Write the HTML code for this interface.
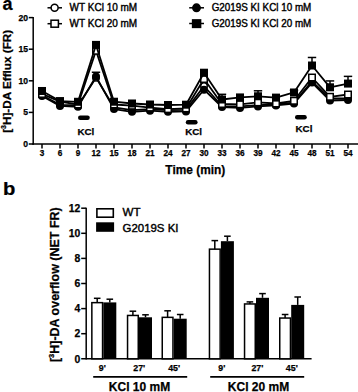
<!DOCTYPE html><html><head><meta charset="utf-8"><style>html,body{margin:0;padding:0;background:#fff;}svg{display:block;}text{font-family:"Liberation Sans",sans-serif;font-weight:bold;fill:#000;stroke:#000;stroke-width:0.25px;}text.lg{font-weight:normal;stroke:#000;stroke-width:0.4px;}</style></head><body>
<svg width="358" height="392" viewBox="0 0 358 392">
<rect width="358" height="392" fill="#fff"/>
<text x="2.6" y="10" font-size="18">a</text>
<text transform="translate(3.0,194.8) scale(1.12,1)" font-size="18">b</text>
<g stroke="#000" stroke-width="1.5" fill="none">
<line x1="33.2" y1="17" x2="33.2" y2="144.8"/>
<line x1="32.4" y1="144" x2="358" y2="144"/>
<line x1="28.8" y1="144.00" x2="33.2" y2="144.00"/>
<line x1="28.8" y1="112.40" x2="33.2" y2="112.40"/>
<line x1="28.8" y1="80.80" x2="33.2" y2="80.80"/>
<line x1="28.8" y1="49.20" x2="33.2" y2="49.20"/>
<line x1="28.8" y1="17.60" x2="33.2" y2="17.60"/>
<line x1="42" y1="144" x2="42" y2="148.5"/>
<line x1="60" y1="144" x2="60" y2="148.5"/>
<line x1="78" y1="144" x2="78" y2="148.5"/>
<line x1="96" y1="144" x2="96" y2="148.5"/>
<line x1="114" y1="144" x2="114" y2="148.5"/>
<line x1="132" y1="144" x2="132" y2="148.5"/>
<line x1="150" y1="144" x2="150" y2="148.5"/>
<line x1="168" y1="144" x2="168" y2="148.5"/>
<line x1="186" y1="144" x2="186" y2="148.5"/>
<line x1="204" y1="144" x2="204" y2="148.5"/>
<line x1="222" y1="144" x2="222" y2="148.5"/>
<line x1="240" y1="144" x2="240" y2="148.5"/>
<line x1="258" y1="144" x2="258" y2="148.5"/>
<line x1="276" y1="144" x2="276" y2="148.5"/>
<line x1="294" y1="144" x2="294" y2="148.5"/>
<line x1="312" y1="144" x2="312" y2="148.5"/>
<line x1="330" y1="144" x2="330" y2="148.5"/>
<line x1="348" y1="144" x2="348" y2="148.5"/>
</g>
<text x="28" y="147.00" font-size="8.6" text-anchor="end">0</text>
<text x="28" y="115.40" font-size="8.6" text-anchor="end">5</text>
<text x="28" y="83.80" font-size="8.6" text-anchor="end">10</text>
<text x="28" y="52.20" font-size="8.6" text-anchor="end">15</text>
<text x="28" y="20.60" font-size="8.6" text-anchor="end">20</text>
<text x="42" y="156.3" font-size="8.2" text-anchor="middle">3</text>
<text x="60" y="156.3" font-size="8.2" text-anchor="middle">6</text>
<text x="78" y="156.3" font-size="8.2" text-anchor="middle">9</text>
<text x="96" y="156.3" font-size="8.2" text-anchor="middle">12</text>
<text x="114" y="156.3" font-size="8.2" text-anchor="middle">15</text>
<text x="132" y="156.3" font-size="8.2" text-anchor="middle">18</text>
<text x="150" y="156.3" font-size="8.2" text-anchor="middle">21</text>
<text x="168" y="156.3" font-size="8.2" text-anchor="middle">24</text>
<text x="186" y="156.3" font-size="8.2" text-anchor="middle">27</text>
<text x="204" y="156.3" font-size="8.2" text-anchor="middle">30</text>
<text x="222" y="156.3" font-size="8.2" text-anchor="middle">33</text>
<text x="240" y="156.3" font-size="8.2" text-anchor="middle">36</text>
<text x="258" y="156.3" font-size="8.2" text-anchor="middle">39</text>
<text x="276" y="156.3" font-size="8.2" text-anchor="middle">42</text>
<text x="294" y="156.3" font-size="8.2" text-anchor="middle">45</text>
<text x="312" y="156.3" font-size="8.2" text-anchor="middle">48</text>
<text x="330" y="156.3" font-size="8.2" text-anchor="middle">51</text>
<text x="348" y="156.3" font-size="8.2" text-anchor="middle">54</text>
<text x="195.3" y="174.4" font-size="11.9" text-anchor="middle">Time (min)</text>
<text transform="translate(11.3,81.3) rotate(-90)" font-size="11.73" text-anchor="middle">[<tspan font-size="7" dy="-5.4">3</tspan><tspan dy="5.4">H]-DA Efflux (FR)</tspan></text>
<rect x="78" y="115.6" width="11.8" height="4.4" rx="2.2" fill="#000"/>
<text x="77.4" y="135.3" font-size="9.8">KCl</text>
<rect x="185.8" y="120.0" width="11.8" height="4.4" rx="2.2" fill="#000"/>
<text x="185.2" y="135.3" font-size="9.8">KCl</text>
<rect x="295.0" y="115.1" width="11.8" height="4.4" rx="2.2" fill="#000"/>
<text x="295.5" y="131.8" font-size="9.8">KCl</text>
<polyline points="42.00,95.34 60.00,104.82 78.00,105.45 96.00,77.64 114.00,107.34 132.00,110.19 150.00,109.24 168.00,110.19 186.00,109.87 204.00,85.98 222.00,106.08 240.00,106.40 258.00,105.13 276.00,104.50 294.00,102.60 312.00,81.43 330.00,98.50 348.00,98.50" fill="none" stroke="#000" stroke-width="1.8" stroke-linejoin="round"/>
<circle cx="42" cy="95.34" r="3.25" fill="#fff" stroke="#000" stroke-width="1.5"/>
<circle cx="60" cy="104.82" r="3.25" fill="#fff" stroke="#000" stroke-width="1.5"/>
<circle cx="78" cy="105.45" r="3.25" fill="#fff" stroke="#000" stroke-width="1.5"/>
<circle cx="96" cy="77.64" r="3.25" fill="#fff" stroke="#000" stroke-width="1.5"/>
<circle cx="114" cy="107.34" r="3.25" fill="#fff" stroke="#000" stroke-width="1.5"/>
<circle cx="132" cy="110.19" r="3.25" fill="#fff" stroke="#000" stroke-width="1.5"/>
<circle cx="150" cy="109.24" r="3.25" fill="#fff" stroke="#000" stroke-width="1.5"/>
<circle cx="168" cy="110.19" r="3.25" fill="#fff" stroke="#000" stroke-width="1.5"/>
<circle cx="186" cy="109.87" r="3.25" fill="#fff" stroke="#000" stroke-width="1.5"/>
<circle cx="204" cy="85.98" r="3.25" fill="#fff" stroke="#000" stroke-width="1.5"/>
<circle cx="222" cy="106.08" r="3.25" fill="#fff" stroke="#000" stroke-width="1.5"/>
<circle cx="240" cy="106.40" r="3.25" fill="#fff" stroke="#000" stroke-width="1.5"/>
<circle cx="258" cy="105.13" r="3.25" fill="#fff" stroke="#000" stroke-width="1.5"/>
<circle cx="276" cy="104.50" r="3.25" fill="#fff" stroke="#000" stroke-width="1.5"/>
<circle cx="294" cy="102.60" r="3.25" fill="#fff" stroke="#000" stroke-width="1.5"/>
<circle cx="312" cy="81.43" r="3.25" fill="#fff" stroke="#000" stroke-width="1.5"/>
<circle cx="330" cy="98.50" r="3.25" fill="#fff" stroke="#000" stroke-width="1.5"/>
<circle cx="348" cy="98.50" r="3.25" fill="#fff" stroke="#000" stroke-width="1.5"/>
<polyline points="42.00,95.97 60.00,105.89 78.00,106.78 96.00,76.50 114.00,109.11 132.00,111.83 150.00,110.63 168.00,111.83 186.00,111.39 204.00,89.71 222.00,107.09 240.00,107.91 258.00,106.40 276.00,105.38 294.00,103.49 312.00,82.57 330.00,100.52 348.00,100.01" fill="none" stroke="#000" stroke-width="1.8" stroke-linejoin="round"/>
<line x1="96" y1="76.50" x2="96" y2="72.27" stroke="#000" stroke-width="1.5"/>
<line x1="91.8" y1="72.27" x2="100.2" y2="72.27" stroke="#000" stroke-width="1.5"/>
<circle cx="42" cy="95.97" r="4.00" fill="#000"/>
<circle cx="60" cy="105.89" r="4.00" fill="#000"/>
<circle cx="78" cy="106.78" r="4.00" fill="#000"/>
<circle cx="96" cy="76.50" r="4.00" fill="#000"/>
<circle cx="114" cy="109.11" r="4.00" fill="#000"/>
<circle cx="132" cy="111.83" r="4.00" fill="#000"/>
<circle cx="150" cy="110.63" r="4.00" fill="#000"/>
<circle cx="168" cy="111.83" r="4.00" fill="#000"/>
<circle cx="186" cy="111.39" r="4.00" fill="#000"/>
<circle cx="204" cy="89.71" r="4.00" fill="#000"/>
<circle cx="222" cy="107.09" r="4.00" fill="#000"/>
<circle cx="240" cy="107.91" r="4.00" fill="#000"/>
<circle cx="258" cy="106.40" r="4.00" fill="#000"/>
<circle cx="276" cy="105.38" r="4.00" fill="#000"/>
<circle cx="294" cy="103.49" r="4.00" fill="#000"/>
<circle cx="312" cy="82.57" r="4.00" fill="#000"/>
<circle cx="330" cy="100.52" r="4.00" fill="#000"/>
<circle cx="348" cy="100.01" r="4.00" fill="#000"/>
<polyline points="42.00,93.95 60.00,101.66 78.00,104.50 96.00,50.78 114.00,104.50 132.00,105.70 150.00,107.60 168.00,109.11 186.00,108.42 204.00,79.03 222.00,103.99 240.00,104.31 258.00,102.41 276.00,103.49 294.00,100.77 312.00,77.51 330.00,96.79 348.00,94.51" fill="none" stroke="#000" stroke-width="1.8" stroke-linejoin="round"/>
<rect x="38.75" y="90.70" width="6.50" height="6.50" fill="#fff" stroke="#000" stroke-width="1.5"/>
<rect x="56.75" y="98.41" width="6.50" height="6.50" fill="#fff" stroke="#000" stroke-width="1.5"/>
<rect x="74.75" y="101.25" width="6.50" height="6.50" fill="#fff" stroke="#000" stroke-width="1.5"/>
<rect x="92.75" y="47.53" width="6.50" height="6.50" fill="#fff" stroke="#000" stroke-width="1.5"/>
<rect x="110.75" y="101.25" width="6.50" height="6.50" fill="#fff" stroke="#000" stroke-width="1.5"/>
<rect x="128.75" y="102.45" width="6.50" height="6.50" fill="#fff" stroke="#000" stroke-width="1.5"/>
<rect x="146.75" y="104.35" width="6.50" height="6.50" fill="#fff" stroke="#000" stroke-width="1.5"/>
<rect x="164.75" y="105.86" width="6.50" height="6.50" fill="#fff" stroke="#000" stroke-width="1.5"/>
<rect x="182.75" y="105.17" width="6.50" height="6.50" fill="#fff" stroke="#000" stroke-width="1.5"/>
<rect x="200.75" y="75.78" width="6.50" height="6.50" fill="#fff" stroke="#000" stroke-width="1.5"/>
<rect x="218.75" y="100.74" width="6.50" height="6.50" fill="#fff" stroke="#000" stroke-width="1.5"/>
<rect x="236.75" y="101.06" width="6.50" height="6.50" fill="#fff" stroke="#000" stroke-width="1.5"/>
<rect x="254.75" y="99.16" width="6.50" height="6.50" fill="#fff" stroke="#000" stroke-width="1.5"/>
<rect x="272.75" y="100.24" width="6.50" height="6.50" fill="#fff" stroke="#000" stroke-width="1.5"/>
<rect x="290.75" y="97.52" width="6.50" height="6.50" fill="#fff" stroke="#000" stroke-width="1.5"/>
<rect x="308.75" y="74.26" width="6.50" height="6.50" fill="#fff" stroke="#000" stroke-width="1.5"/>
<rect x="326.75" y="93.54" width="6.50" height="6.50" fill="#fff" stroke="#000" stroke-width="1.5"/>
<rect x="344.75" y="91.26" width="6.50" height="6.50" fill="#fff" stroke="#000" stroke-width="1.5"/>
<polyline points="42.00,90.98 60.00,101.09 78.00,101.78 96.00,44.90 114.00,101.72 132.00,103.49 150.00,104.50 168.00,105.01 186.00,104.69 204.00,72.71 222.00,99.51 240.00,97.42 258.00,96.28 276.00,97.61 294.00,92.49 312.00,65.51 330.00,87.31 348.00,83.58" fill="none" stroke="#000" stroke-width="1.8" stroke-linejoin="round"/>
<line x1="312" y1="65.51" x2="312" y2="57.48" stroke="#000" stroke-width="1.5"/>
<line x1="307.8" y1="57.48" x2="316.2" y2="57.48" stroke="#000" stroke-width="1.5"/>
<line x1="330" y1="87.31" x2="330" y2="80.93" stroke="#000" stroke-width="1.5"/>
<line x1="325.8" y1="80.93" x2="334.2" y2="80.93" stroke="#000" stroke-width="1.5"/>
<line x1="348" y1="83.58" x2="348" y2="76.38" stroke="#000" stroke-width="1.5"/>
<line x1="343.8" y1="76.38" x2="352.2" y2="76.38" stroke="#000" stroke-width="1.5"/>
<line x1="222" y1="99.51" x2="222" y2="94.32" stroke="#000" stroke-width="1.5"/>
<line x1="217.8" y1="94.32" x2="226.2" y2="94.32" stroke="#000" stroke-width="1.5"/>
<line x1="258" y1="96.28" x2="258" y2="90.79" stroke="#000" stroke-width="1.5"/>
<line x1="253.8" y1="90.79" x2="262.2" y2="90.79" stroke="#000" stroke-width="1.5"/>
<line x1="294" y1="92.49" x2="294" y2="90.28" stroke="#000" stroke-width="1.5"/>
<line x1="289.8" y1="90.28" x2="298.2" y2="90.28" stroke="#000" stroke-width="1.5"/>
<rect x="38.00" y="86.98" width="8.0" height="8.0" fill="#000"/>
<rect x="56.00" y="97.09" width="8.0" height="8.0" fill="#000"/>
<rect x="74.00" y="97.78" width="8.0" height="8.0" fill="#000"/>
<rect x="92.00" y="40.90" width="8.0" height="8.0" fill="#000"/>
<rect x="110.00" y="97.72" width="8.0" height="8.0" fill="#000"/>
<rect x="128.00" y="99.49" width="8.0" height="8.0" fill="#000"/>
<rect x="146.00" y="100.50" width="8.0" height="8.0" fill="#000"/>
<rect x="164.00" y="101.01" width="8.0" height="8.0" fill="#000"/>
<rect x="182.00" y="100.69" width="8.0" height="8.0" fill="#000"/>
<rect x="200.00" y="68.71" width="8.0" height="8.0" fill="#000"/>
<rect x="218.00" y="95.51" width="8.0" height="8.0" fill="#000"/>
<rect x="236.00" y="93.42" width="8.0" height="8.0" fill="#000"/>
<rect x="254.00" y="92.28" width="8.0" height="8.0" fill="#000"/>
<rect x="272.00" y="93.61" width="8.0" height="8.0" fill="#000"/>
<rect x="290.00" y="88.49" width="8.0" height="8.0" fill="#000"/>
<rect x="308.00" y="61.51" width="8.0" height="8.0" fill="#000"/>
<rect x="326.00" y="83.31" width="8.0" height="8.0" fill="#000"/>
<rect x="344.00" y="79.58" width="8.0" height="8.0" fill="#000"/>
<g stroke="#000" stroke-width="1.5">
<line x1="47.5" y1="7.8" x2="62" y2="7.8"/><circle cx="54.6" cy="7.8" r="3.5" fill="#fff"/>
<line x1="47.5" y1="23.7" x2="62" y2="23.7"/><rect x="51" y="20.2" width="7.4" height="7" fill="#fff"/>
<line x1="189.2" y1="7.8" x2="204" y2="7.8"/><circle cx="196.5" cy="7.8" r="3.7" fill="#000"/>
<line x1="189.2" y1="23.5" x2="204" y2="23.5"/><rect x="192.6" y="19.9" width="8" height="7.5" fill="#000"/>
</g>
<text class="lg" x="69.6" y="11" font-size="10.3" textLength="67.6" lengthAdjust="spacingAndGlyphs">WT KCl 10 mM</text>
<text class="lg" x="69.6" y="27" font-size="10.3" textLength="67.6" lengthAdjust="spacingAndGlyphs">WT KCl 20 mM</text>
<text class="lg" x="211.7" y="11" font-size="10.3" textLength="99.6" lengthAdjust="spacingAndGlyphs">G2019S KI KCl 10 mM</text>
<text class="lg" x="211.7" y="27" font-size="10.3" textLength="99.6" lengthAdjust="spacingAndGlyphs">G2019S KI KCl 20 mM</text>
<g stroke="#000" stroke-width="1.5" fill="none">
<line x1="86.2" y1="207.8" x2="86.2" y2="359.5"/>
<line x1="81.2" y1="358.8" x2="311.6" y2="358.8"/>
<line x1="81.2" y1="333.70" x2="86.2" y2="333.70"/>
<line x1="81.2" y1="308.60" x2="86.2" y2="308.60"/>
<line x1="81.2" y1="283.50" x2="86.2" y2="283.50"/>
<line x1="81.2" y1="258.40" x2="86.2" y2="258.40"/>
<line x1="81.2" y1="233.30" x2="86.2" y2="233.30"/>
<line x1="81.2" y1="208.20" x2="86.2" y2="208.20"/>
</g>
<text x="80.2" y="362.50" font-size="10.4" text-anchor="end">0</text>
<text x="80.2" y="337.40" font-size="10.4" text-anchor="end">2</text>
<text x="80.2" y="312.30" font-size="10.4" text-anchor="end">4</text>
<text x="80.2" y="287.20" font-size="10.4" text-anchor="end">6</text>
<text x="80.2" y="262.10" font-size="10.4" text-anchor="end">8</text>
<text x="80.2" y="237.00" font-size="10.4" text-anchor="end">10</text>
<text x="80.2" y="211.90" font-size="10.4" text-anchor="end">12</text>
<text transform="translate(59.3,284.7) rotate(-90)" font-size="12.48" text-anchor="middle">[<tspan font-size="7.5" dy="-5.6">3</tspan><tspan dy="5.6">H]-DA overflow (NET FR)</tspan></text>
<rect x="91.85" y="302.65" width="10.70" height="56.15" fill="#fff" stroke="#000" stroke-width="1.5"/>
<line x1="97.20" y1="302.65" x2="97.20" y2="298.30" stroke="#000" stroke-width="1.5"/>
<line x1="93.90" y1="298.30" x2="100.50" y2="298.30" stroke="#000" stroke-width="1.5"/>
<rect x="103.30" y="302.40" width="13.00" height="56.40" fill="#000"/>
<line x1="109.80" y1="302.40" x2="109.80" y2="299.20" stroke="#000" stroke-width="1.5"/>
<line x1="106.50" y1="299.20" x2="113.10" y2="299.20" stroke="#000" stroke-width="1.5"/>
<rect x="127.55" y="315.45" width="10.70" height="43.35" fill="#fff" stroke="#000" stroke-width="1.5"/>
<line x1="132.90" y1="315.45" x2="132.90" y2="311.20" stroke="#000" stroke-width="1.5"/>
<line x1="129.60" y1="311.20" x2="136.20" y2="311.20" stroke="#000" stroke-width="1.5"/>
<rect x="139.00" y="317.30" width="13.00" height="41.50" fill="#000"/>
<line x1="145.50" y1="317.30" x2="145.50" y2="314.80" stroke="#000" stroke-width="1.5"/>
<line x1="142.20" y1="314.80" x2="148.80" y2="314.80" stroke="#000" stroke-width="1.5"/>
<rect x="162.25" y="317.35" width="10.70" height="41.45" fill="#fff" stroke="#000" stroke-width="1.5"/>
<line x1="167.60" y1="317.35" x2="167.60" y2="310.80" stroke="#000" stroke-width="1.5"/>
<line x1="164.30" y1="310.80" x2="170.90" y2="310.80" stroke="#000" stroke-width="1.5"/>
<rect x="173.70" y="318.70" width="13.00" height="40.10" fill="#000"/>
<line x1="180.20" y1="318.70" x2="180.20" y2="314.50" stroke="#000" stroke-width="1.5"/>
<line x1="176.90" y1="314.50" x2="183.50" y2="314.50" stroke="#000" stroke-width="1.5"/>
<rect x="209.45" y="249.15" width="10.70" height="109.65" fill="#fff" stroke="#000" stroke-width="1.5"/>
<line x1="214.80" y1="249.15" x2="214.80" y2="240.60" stroke="#000" stroke-width="1.5"/>
<line x1="211.50" y1="240.60" x2="218.10" y2="240.60" stroke="#000" stroke-width="1.5"/>
<rect x="220.90" y="241.20" width="13.00" height="117.60" fill="#000"/>
<line x1="227.40" y1="241.20" x2="227.40" y2="236.20" stroke="#000" stroke-width="1.5"/>
<line x1="224.10" y1="236.20" x2="230.70" y2="236.20" stroke="#000" stroke-width="1.5"/>
<rect x="244.55" y="303.95" width="10.70" height="54.85" fill="#fff" stroke="#000" stroke-width="1.5"/>
<line x1="249.90" y1="303.95" x2="249.90" y2="301.90" stroke="#000" stroke-width="1.5"/>
<line x1="246.60" y1="301.90" x2="253.20" y2="301.90" stroke="#000" stroke-width="1.5"/>
<rect x="256.00" y="297.80" width="13.00" height="61.00" fill="#000"/>
<line x1="262.50" y1="297.80" x2="262.50" y2="293.60" stroke="#000" stroke-width="1.5"/>
<line x1="259.20" y1="293.60" x2="265.80" y2="293.60" stroke="#000" stroke-width="1.5"/>
<rect x="279.75" y="318.05" width="10.70" height="40.75" fill="#fff" stroke="#000" stroke-width="1.5"/>
<line x1="285.10" y1="318.05" x2="285.10" y2="314.50" stroke="#000" stroke-width="1.5"/>
<line x1="281.80" y1="314.50" x2="288.40" y2="314.50" stroke="#000" stroke-width="1.5"/>
<rect x="291.20" y="304.90" width="13.00" height="53.90" fill="#000"/>
<line x1="297.70" y1="304.90" x2="297.70" y2="297.00" stroke="#000" stroke-width="1.5"/>
<line x1="294.40" y1="297.00" x2="301.00" y2="297.00" stroke="#000" stroke-width="1.5"/>
<text x="102.30" y="371" font-size="8.8" text-anchor="middle">9'</text>
<text x="139.20" y="371" font-size="8.8" text-anchor="middle">27'</text>
<text x="174.10" y="371" font-size="8.8" text-anchor="middle">45'</text>
<text x="221.80" y="371" font-size="8.8" text-anchor="middle">9'</text>
<text x="257.40" y="371" font-size="8.8" text-anchor="middle">27'</text>
<text x="291.80" y="371" font-size="8.8" text-anchor="middle">45'</text>
<line x1="93.2" y1="376.8" x2="187.2" y2="376.8" stroke="#000" stroke-width="1.8"/>
<line x1="210.2" y1="376.8" x2="304.2" y2="376.8" stroke="#000" stroke-width="1.8"/>
<text x="139.5" y="391" font-size="12" text-anchor="middle">KCl 10 mM</text>
<text x="258.5" y="391" font-size="12" text-anchor="middle">KCl 20 mM</text>
<rect x="96.9" y="208.8" width="16.4" height="8.4" fill="#fff" stroke="#000" stroke-width="1.6"/>
<rect x="96.1" y="222.3" width="18" height="9.5" fill="#000"/>
<text class="lg" x="122.5" y="216.4" font-size="11.6">WT</text>
<text class="lg" x="122.5" y="232.2" font-size="11.6" textLength="56" lengthAdjust="spacingAndGlyphs">G2019S KI</text>
</svg></body></html>
